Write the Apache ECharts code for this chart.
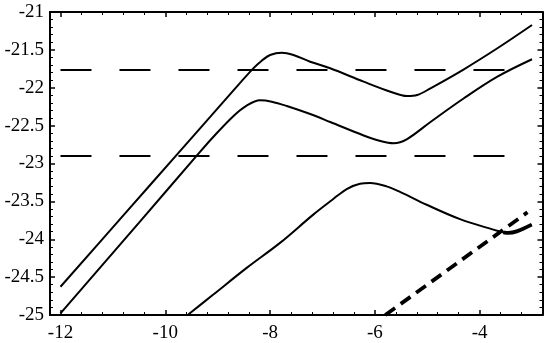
<!DOCTYPE html>
<html>
<head>
<meta charset="utf-8">
<script src="https://cdn.jsdelivr.net/npm/echarts@6/dist/echarts.min.js"></script>
<style>
  html, body { margin: 0; padding: 0; background: #fff; }
  #chart { width: 544px; height: 343px; }
</style>
</head>
<body>
<div id="chart"></div>
<script>
// upper branch
const upperCurve = [
  [-12, -24.627], [-10.8, -23.685], [-9.786, -22.889], [-9.34, -22.539],
  [-8.702, -22.038], [-8.32, -21.745], [-8.159, -21.643], [-8.0, -21.568],
  [-7.776, -21.537], [-7.554, -21.568], [-7.234, -21.656], [-6.852, -21.743],
  [-6.214, -21.92], [-5.703, -22.052], [-5.384, -22.109], [-5.192, -22.096],
  [-4.938, -22.007], [-4.3, -21.756], [-3.661, -21.479], [-3.0, -21.172]
]
// middle branch
const middleCurve = [
  [-12, -24.978], [-10.5, -23.78], [-9.403, -22.9], [-9.085, -22.65],
  [-8.702, -22.375], [-8.447, -22.235], [-8.19, -22.165], [-7.967, -22.184],
  [-7.68, -22.241], [-7.234, -22.347], [-6.852, -22.452], [-6.214, -22.63],
  [-5.895, -22.703], [-5.64, -22.733], [-5.384, -22.677], [-4.938, -22.452],
  [-4.3, -22.139], [-3.661, -21.854], [-3.0, -21.624]
]
// lower branch
const lowerCurve = [
  [-9.561, -24.993], [-9.083, -24.73], [-8.446, -24.378], [-7.81, -24.048],
  [-7.175, -23.675], [-6.793, -23.469], [-6.537, -23.337], [-6.283, -23.267],
  [-6.092, -23.258], [-5.774, -23.302], [-5.52, -23.375], [-5.01, -23.545],
  [-4.374, -23.735], [-3.739, -23.873], [-3.548, -23.909], [-3.452, -23.917],
  [-3.292, -23.896], [-3.006, -23.807]
]
const lowerTail = [
  [-3.548, -23.909], [-3.452, -23.917], [-3.292, -23.896], [-3.006, -23.807]
]
const levelA = [[-12, -21.766], [-3.5, -21.766]]
const levelB = [[-12, -22.9], [-3.5, -22.9]]
const diagLine = [[-5.8, -25.0], [-3.087, -23.644]]

const xTicks = [-12, -10, -8, -6, -4]
const yTicks = [-21, -21.5, -22, -22.5, -23, -23.5, -24, -24.5, -25]

const font = "'Liberation Serif', 'DejaVu Serif', serif"
const frame = { show: true, onZero: false, lineStyle: { color: '#000', width: 2 } }

function xAxis(pos, labels) {
  return {
    type: 'value', position: pos, min: -12.2, max: -2.8, splitNumber: 5,
    axisLine: frame,
    axisTick: { show: true, inside: true, length: 5, lineStyle: { color: '#000', width: 1.5 } },
    minorTick: { show: true, splitNumber: 5, length: 3, lineStyle: { color: '#000', width: 1 } },
    splitLine: { show: false },
    axisLabel: {
      show: labels, showMinLabel: false, showMaxLabel: false,
      color: '#000', fontFamily: font, fontSize: 19, margin: 9,
      formatter: v => (xTicks.includes(v) ? String(v) : '')
    }
  }
}
function yAxis(pos, labels) {
  return {
    type: 'value', position: pos, min: -25, max: -21, interval: 0.5,
    axisLine: frame,
    axisTick: { show: true, inside: true, length: 5, lineStyle: { color: '#000', width: 1.5 } },
    minorTick: { show: true, splitNumber: 5, length: 3, lineStyle: { color: '#000', width: 1 } },
    splitLine: { show: false },
    axisLabel: {
      show: labels, color: '#000', fontFamily: font, fontSize: 19, margin: 6,
      formatter: v => (yTicks.includes(v) ? String(v) : '')
    }
  }
}

function line(data, opts) {
  return Object.assign({
    type: 'line', data, showSymbol: false, smooth: 0.35, animation: false,
    xAxisIndex: 0, yAxisIndex: 0,
    lineStyle: { color: '#000', width: 2 }
  }, opts)
}

const chart = echarts.init(document.getElementById('chart'))
chart.setOption({
  animation: false,
  grid: { left: 50, right: 1.5, top: 12, bottom: 27.5 },
  xAxis: [xAxis('bottom', true), xAxis('top', false)],
  yAxis: [yAxis('left', true), yAxis('right', false)],
  series: [
    line(levelA, { smooth: false, lineStyle: { color: '#000', width: 2, type: [31, 28] } }),
    line(levelB, { smooth: false, lineStyle: { color: '#000', width: 2, type: [31, 28] } }),
    line(upperCurve),
    line(middleCurve),
    line(lowerCurve),
    line(lowerTail, { lineStyle: { color: '#000', width: 3.8 } }),
    line(diagLine, { smooth: false, lineStyle: { color: '#000', width: 3.8, type: [12, 7] } })
  ]
})
</script>
</body>
</html>
